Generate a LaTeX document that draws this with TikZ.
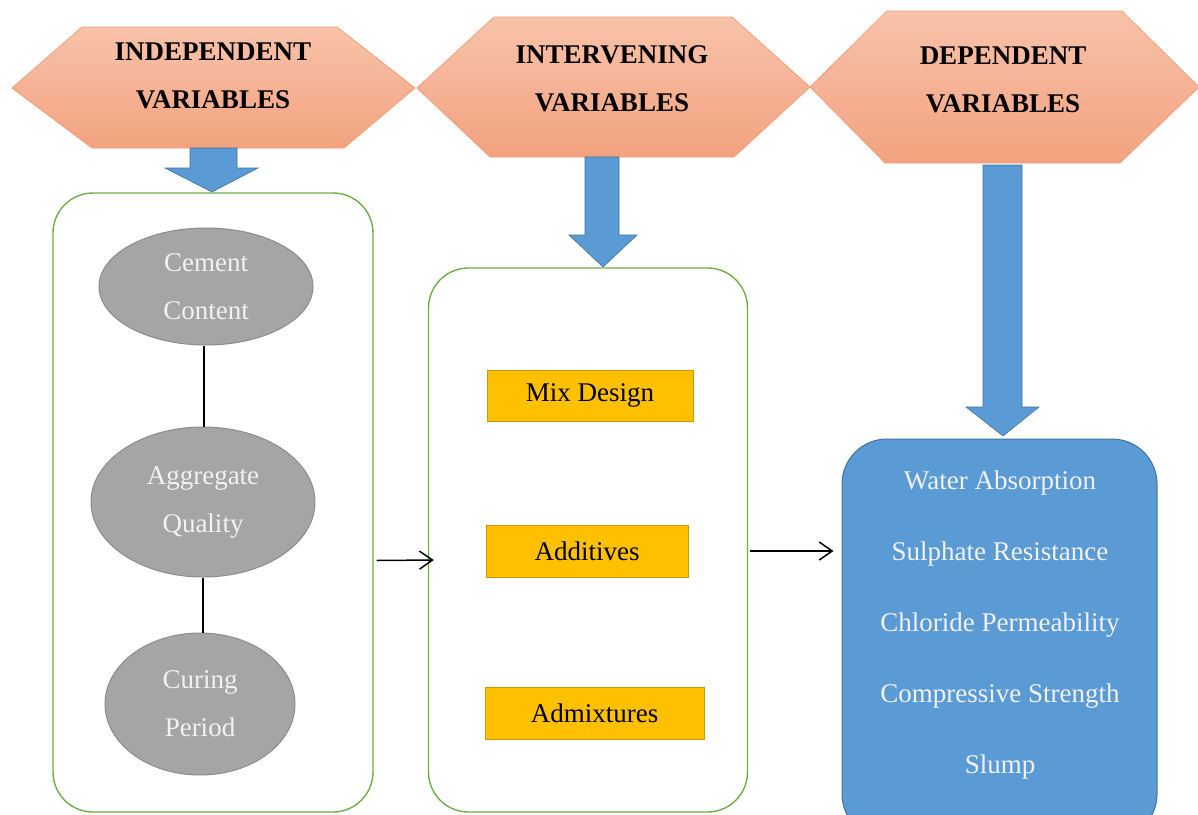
\documentclass[tikz,border=0pt]{standalone}
\usepackage{fontspec}
\setmainfont{Liberation Serif}
\usetikzlibrary{shapes.geometric,arrows.meta,calc}
\definecolor{hexbord}{HTML}{EFA07C}
\definecolor{hextop}{HTML}{F8C3AA}
\definecolor{hexbot}{HTML}{F3A27F}
\definecolor{bluefill}{HTML}{5B9BD5}
\definecolor{bluebord}{HTML}{41719C}
\definecolor{greenbord}{HTML}{70AD47}
\definecolor{grayfill}{HTML}{A5A5A5}
\definecolor{graybord}{HTML}{8C8C8C}
\definecolor{goldfill}{HTML}{FFC000}
\definecolor{goldbord}{HTML}{C99A06}
\definecolor{lighttext}{HTML}{F2F2F2}
\begin{document}
\begin{tikzpicture}[x=1pt,y=-1pt,
  hexshape/.style={draw=hexbord, line width=0.8pt, top color=hextop, bottom color=hexbot},
  hexlabel/.style={font=\fontsize{27}{48}\selectfont\bfseries, align=center, text=black, inner sep=0pt},
  blockarrow/.style={draw=bluebord, line width=0.6pt, fill=bluefill},
  groupbox/.style={draw=greenbord, line width=1.4pt, rounded corners=40pt, fill=white, inner sep=0pt},
  factor/.style={ellipse, draw=graybord, line width=1pt, fill=grayfill, text=lighttext,
     font=\fontsize{27}{48}\selectfont, align=center, inner sep=0pt},
  midvar/.style={draw=goldbord, line width=1pt, fill=goldfill, text=black,
     font=\fontsize{27}{32}\selectfont, inner sep=0pt},
  outbox/.style={draw=bluebord, line width=1pt, fill=bluefill, rounded corners=45pt, inner sep=0pt},
  outlabel/.style={text=lighttext, font=\fontsize{27}{71}\selectfont, align=center, inner sep=0pt},
  link/.style={draw=black, line width=1.3pt},
  flow/.style={draw=black, line width=1.5pt, -{Straight Barb[length=13pt,width=18pt,line width=1.5pt]}}
]
\useasboundingbox (0,0) rectangle (1198,814);
\clip (0,0) rectangle (1198,814);

% header hexagons
\path[hexshape] (12,88) -- (82,27) -- (337,27) -- (415,88) -- (344,148) -- (92,148) -- cycle;
\path[hexshape] (417,88) -- (494,17) -- (732,17) -- (810,87) -- (734,157) -- (490,157) -- cycle;
\path[hexshape] (810,87) -- (887,11) -- (1122,11) -- (1199,87) -- (1120,163) -- (885,163) -- cycle;
\node[hexlabel] (h1) at (213,76) {INDEPENDENT\\VARIABLES};
\node[hexlabel] (h2) at (612,79) {INTERVENING\\VARIABLES};
\node[hexlabel] (h3) at (1003,80) {DEPENDENT\\VARIABLES};

% group boxes
\node[groupbox, minimum width=320pt, minimum height=619pt] (leftbox) at (213,502.5) {};
\node[groupbox, minimum width=319pt, minimum height=544pt] (midbox) at (588,540) {};
\node[outbox, minimum width=315pt, minimum height=400pt] (bluebox) at (999.5,639) {};

% block arrows
\path[blockarrow] (190,148) -- (237,148) -- (237,168) -- (258,168) -- (212,192) -- (165,168) -- (190,168) -- cycle;
\path[blockarrow] (585,157) -- (619,157) -- (619,235) -- (637,235) -- (603,267) -- (569,235) -- (585,235) -- cycle;
\path[blockarrow] (983,165) -- (1022,165) -- (1022,407) -- (1039,407) -- (1003,436) -- (966,407) -- (983,407) -- cycle;

% independent variables
\node[factor, minimum width=214pt, minimum height=117pt] (cem) at (206,286.5) {Cement\\Content};
\node[factor, minimum width=224pt, minimum height=150pt] (agg) at (203,502) {Aggregate\\Quality};
\node[factor, minimum width=190pt, minimum height=142pt] (cur) at (200,704) {Curing\\Period};
\draw[link] ([xshift=-2pt]cem.south) -- ([xshift=-2pt]cem.south |- agg.north);
\draw[link] (agg.south) -- (agg.south |- cur.north);

% intervening variables
\node[midvar, minimum width=206pt, minimum height=51pt] (mix) at (590,395.5) {Mix Design};
\node[midvar, minimum width=202pt, minimum height=52pt] (add) at (587,551) {Additives};
\node[midvar, minimum width=219pt, minimum height=52pt] (adm) at (594.5,713) {Admixtures};

% dependent variables
\node[outlabel] (deps) at (1000,625) {Water Absorption\\Sulphate Resistance\\Chloride Permeability\\Compressive Strength\\Slump};

% flow arrows
\draw[flow] ([shift={(3pt,-58pt)}]leftbox.east) -- ([shift={(6pt,-20pt)}]midbox.west);
\draw[flow] ([shift={(2pt,-11pt)}]midbox.east) -- ([shift={(-8pt,88pt)}]bluebox.west);
\end{tikzpicture}
\end{document}
